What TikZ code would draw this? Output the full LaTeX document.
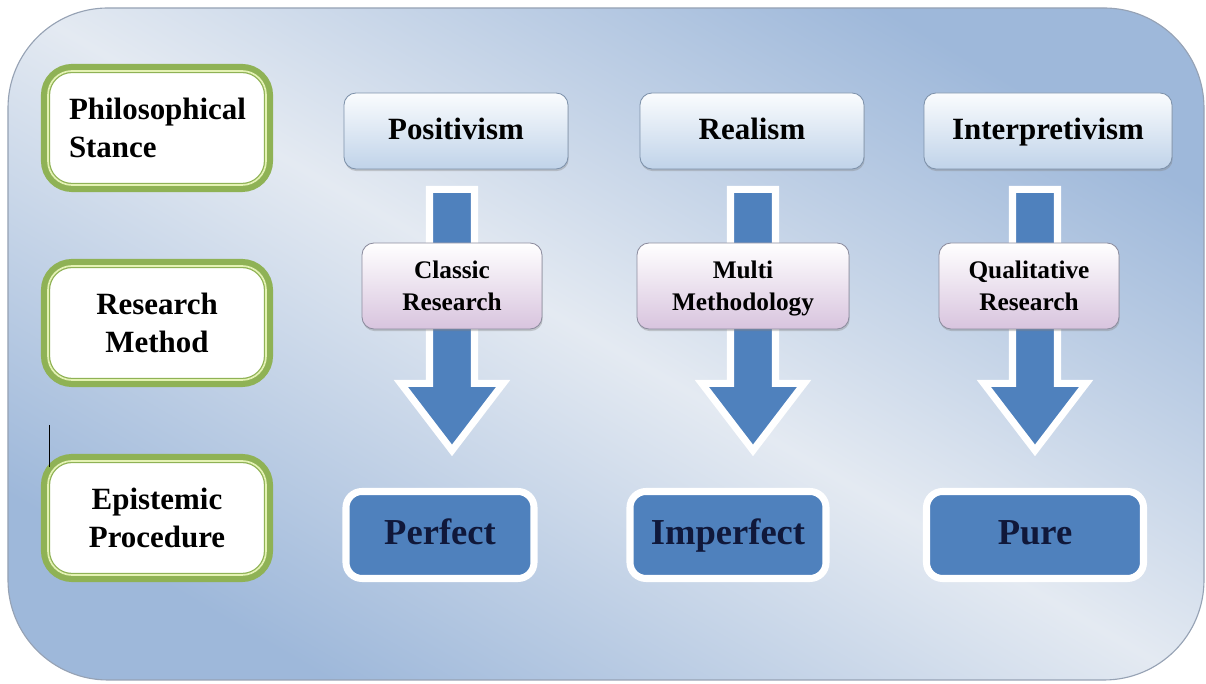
\documentclass[tikz,border=0pt]{standalone}
\usepackage{fontspec}
\setmainfont{Liberation Serif}[BoldFont={Liberation Serif Bold}]
\usetikzlibrary{positioning, calc, shadows}

\definecolor{bgblue}{RGB}{158,184,218}
\definecolor{bglight}{RGB}{228,234,242}
\definecolor{bgline}{RGB}{150,162,180}
\definecolor{gborder}{RGB}{143,178,85}
\definecolor{glight}{RGB}{228,242,180}
\definecolor{toptop}{RGB}{250,252,254}
\definecolor{topbot}{RGB}{192,211,233}
\definecolor{topline}{RGB}{125,145,170}
\definecolor{midbot}{RGB}{216,196,222}
\definecolor{midline}{RGB}{140,140,158}
\definecolor{boxblue}{RGB}{79,129,189}
\definecolor{navy}{RGB}{16,24,58}

\tikzstyle{stance} = [rectangle, rounded corners=0.6cm, minimum width=5.45cm, minimum height=2.85cm, inner sep=0, text width=4.6cm, align=center, text height=14.6pt, text depth=27pt, fill=white, draw=gborder, line width=3pt, preaction={draw=gborder, line width=10pt}, postaction={draw=glight, line width=1.2pt}, font=\bfseries\fontsize{22}{27}\selectfont]
\tikzstyle{stage} = [rectangle, rounded corners=0.3cm, minimum width=5.6cm, minimum height=1.9cm, inner sep=0, text height=14.6pt, text depth=2pt, draw=topline, line width=0.6pt, top color=toptop, bottom color=topbot, drop shadow={shadow xshift=0.5pt, shadow yshift=-1.5pt, opacity=0.35}, font=\bfseries\fontsize{22}{27}\selectfont]
\tikzstyle{method} = [rectangle, rounded corners=0.3cm, minimum width=4.5cm, minimum height=2.15cm, inner sep=0, text width=3.7cm, align=center, text height=11.9pt, text depth=23pt, draw=midline, line width=0.6pt, top color=white, bottom color=midbot, drop shadow={shadow xshift=0.5pt, shadow yshift=-1.5pt, opacity=0.35}, font=\bfseries\fontsize{18}{23}\selectfont]
\tikzstyle{outcome} = [rectangle, rounded corners=0.4cm, minimum width=4.7cm, minimum height=2.175cm, inner sep=0, text height=17.2pt, text depth=4pt, fill=boxblue, draw=white, line width=5pt, drop shadow={shadow xshift=1pt, shadow yshift=-1.5pt, opacity=0.4}, text=navy, font=\bfseries\fontsize{26}{30}\selectfont]
\tikzstyle{bigarrow} = [fill=boxblue, draw=white, line width=5pt, line join=miter, drop shadow={shadow xshift=2pt, shadow yshift=-1pt, opacity=0.3}]

\newcommand{\fatarrow}[1]{\draw [bigarrow] (#1) ++(-0.5625,0) -- ++(1.125,0) -- ++(0,-4.85) -- ++(0.7175,0) -- ++(-1.28,-1.675) -- ++(-1.28,1.675) -- ++(0.7175,0) -- cycle;}

\begin{document}
\begin{tikzpicture}[node distance=7.4cm]

\useasboundingbox (0,0) rectangle (30.15,17.1);
\shadedraw [rounded corners=2.5cm, draw=bgline, line width=0.8pt, top color=bgblue, bottom color=bgblue, middle color=bglight, shading angle=-30] (0.2,0.1) rectangle (30.1,16.9);

\node [stance, text width=4.4cm, align=left] (PS) at (3.925,13.9) {Philosophical Stance};
\node [stance, below of=PS, node distance=4.875cm] (RM) {Research Method};
\node [stance, below of=RM, node distance=4.875cm] (EP) {Epistemic Procedure};
\coordinate (tick) at ($(EP.north west)+(0.1,0.85)$);
\draw [line width=0.8pt] (tick) -- ++(0,-1.05);

\node [stage] (Pos) at (11.4,13.825) {Positivism};
\node [stage, right of=Pos] (Real) {Realism};
\node [stage, right of=Real, minimum width=6.2cm] (Intp) {Interpretivism};

\node [outcome, below of=Pos, node distance=10.1cm, xshift=-0.4cm] (Perf) {Perfect};
\node [outcome, below of=Real, node distance=10.1cm, xshift=-0.6cm, minimum width=4.9cm] (Imperf) {Imperfect};
\node [outcome, below of=Intp, node distance=10.1cm, xshift=-0.325cm, minimum width=5.425cm] (Pure) {Pure};

\coordinate (a1) at ($(Pos.south)+(-0.1,-0.5)$);
\coordinate (a2) at ($(Real.south)+(0.025,-0.5)$);
\coordinate (a3) at ($(Intp.south)+(-0.325,-0.5)$);
\fatarrow{a1}
\fatarrow{a2}
\fatarrow{a3}

\node [method, below of=Pos, node distance=3.875cm, xshift=-0.1cm] (Cls) {Classic Research};
\node [method, below of=Real, node distance=3.875cm, xshift=-0.225cm, minimum width=5.3cm] (Multi) {Multi Methodology};
\node [method, below of=Intp, node distance=3.875cm, xshift=-0.475cm] (Qual) {Qualitative Research};

\end{tikzpicture}
\end{document}
